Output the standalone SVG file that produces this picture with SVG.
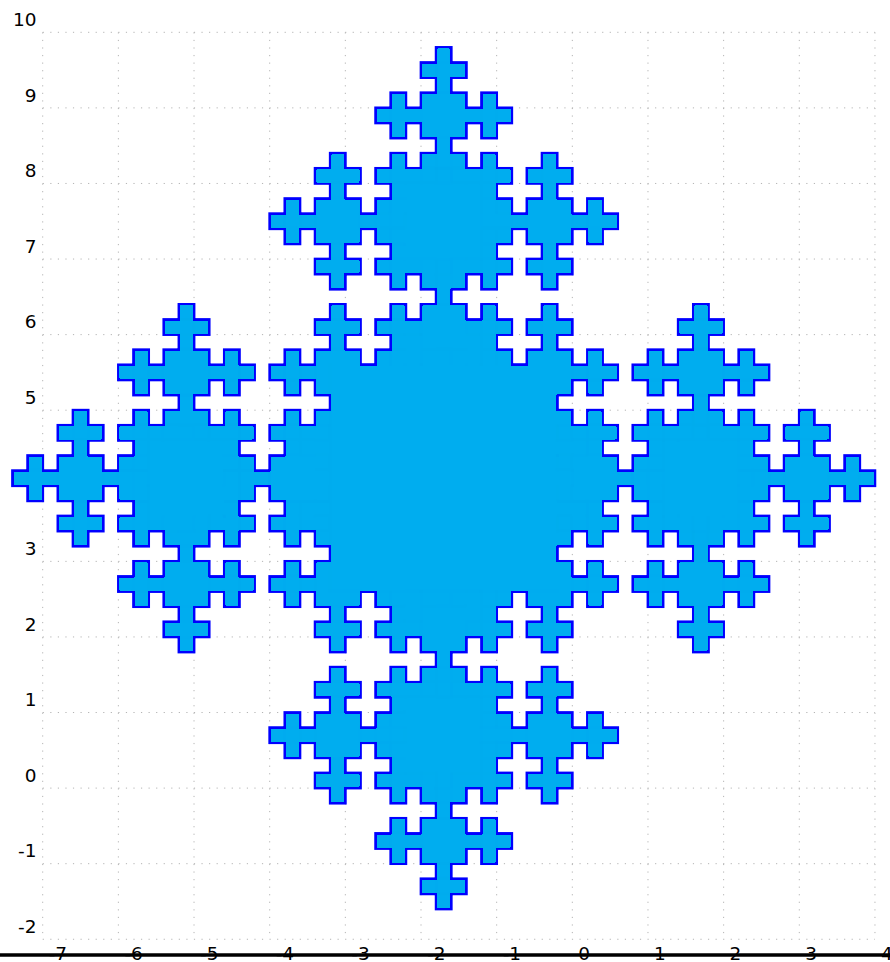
<svg xmlns="http://www.w3.org/2000/svg" width="890" height="962" viewBox="0 0 890 962">
<defs>
<style>
.grid line { stroke:#b4b4b4; stroke-width:1; stroke-dasharray:1.2 6.36; fill:none }
.lab { font-family:"DejaVu Sans","Liberation Sans",sans-serif; font-size:18.5px; fill:#000 }
.ylab { text-anchor:end }
</style>
<rect id="s0" x="-0.5" y="-0.5" width="1" height="1"/>
<g id="s1"><use href="#s0"/><use href="#s0" x="1"/><use href="#s0" x="-1"/><use href="#s0" y="1"/><use href="#s0" y="-1"/></g>
<g id="s2"><use href="#s1"/><use href="#s1" x="3"/><use href="#s1" x="-3"/><use href="#s1" y="3"/><use href="#s1" y="-3"/><rect x="-1.5" y="-1.5" width="3" height="3"/></g>
<g id="s3"><use href="#s2"/><use href="#s2" x="7"/><use href="#s2" x="-7"/><use href="#s2" y="7"/><use href="#s2" y="-7"/><use href="#s1" x="3" y="3"/><use href="#s1" x="3" y="-3"/><use href="#s1" x="-3" y="3"/><use href="#s1" x="-3" y="-3"/><rect x="-2.5" y="-2.5" width="5" height="5"/></g>
<g id="s4"><use href="#s3"/><use href="#s3" x="17"/><use href="#s3" x="-17"/><use href="#s3" y="17"/><use href="#s3" y="-17"/><use href="#s2" x="7" y="7"/><use href="#s2" x="7" y="-7"/><use href="#s2" x="-7" y="7"/><use href="#s2" x="-7" y="-7"/><rect x="-7.5" y="-7.5" width="15" height="15"/><rect x="7.5" y="1.5" width="2" height="1"/><rect x="7.5" y="-2.5" width="2" height="1"/><rect x="-9.5" y="1.5" width="2" height="1"/><rect x="-9.5" y="-2.5" width="2" height="1"/><rect x="1.5" y="7.5" width="1" height="2"/><rect x="-2.5" y="7.5" width="1" height="2"/><rect x="1.5" y="-9.5" width="1" height="2"/><rect x="-2.5" y="-9.5" width="1" height="2"/></g>
<filter id="erode" x="0" y="0" width="890" height="962" filterUnits="userSpaceOnUse" color-interpolation-filters="sRGB">
<feComponentTransfer in="SourceGraphic" result="solid"><feFuncA type="discrete" tableValues="0 1"/></feComponentTransfer>
<feMorphology in="solid" operator="erode" radius="1.35"/>
</filter>
</defs>
<rect width="890" height="962" fill="#fff"/>
<g id="grid" class="grid">
<line x1="42.7" y1="32.3" x2="42.7" y2="939.3"/>
<line x1="118.36" y1="32.3" x2="118.36" y2="939.3"/>
<line x1="194.02" y1="32.3" x2="194.02" y2="939.3"/>
<line x1="269.68" y1="32.3" x2="269.68" y2="939.3"/>
<line x1="345.34" y1="32.3" x2="345.34" y2="939.3"/>
<line x1="421" y1="32.3" x2="421" y2="939.3"/>
<line x1="496.66" y1="32.3" x2="496.66" y2="939.3"/>
<line x1="572.32" y1="32.3" x2="572.32" y2="939.3"/>
<line x1="647.98" y1="32.3" x2="647.98" y2="939.3"/>
<line x1="723.64" y1="32.3" x2="723.64" y2="939.3"/>
<line x1="799.3" y1="32.3" x2="799.3" y2="939.3"/>
<line x1="874.96" y1="32.3" x2="874.96" y2="939.3"/>
<line x1="42.7" y1="32.3" x2="875" y2="32.3"/>
<line x1="42.7" y1="107.88" x2="875" y2="107.88"/>
<line x1="42.7" y1="183.46" x2="875" y2="183.46"/>
<line x1="42.7" y1="259.04" x2="875" y2="259.04"/>
<line x1="42.7" y1="334.62" x2="875" y2="334.62"/>
<line x1="42.7" y1="410.2" x2="875" y2="410.2"/>
<line x1="42.7" y1="485.78" x2="875" y2="485.78"/>
<line x1="42.7" y1="561.36" x2="875" y2="561.36"/>
<line x1="42.7" y1="636.94" x2="875" y2="636.94"/>
<line x1="42.7" y1="712.52" x2="875" y2="712.52"/>
<line x1="42.7" y1="788.1" x2="875" y2="788.1"/>
<line x1="42.7" y1="863.68" x2="875" y2="863.68"/>
<line x1="42.7" y1="939.26" x2="875" y2="939.26"/>
</g>
<g id="y-labels" class="lab ylab">
<text x="36.5" y="26">10</text>
<text x="36.5" y="101.6">9</text>
<text x="36.5" y="177.2">8</text>
<text x="36.5" y="252.7">7</text>
<text x="36.5" y="328.3">6</text>
<text x="36.5" y="403.9">5</text>
<text x="36.5" y="555.1">3</text>
<text x="36.5" y="630.6">2</text>
<text x="36.5" y="706.2">1</text>
<text x="36.5" y="781.8">0</text>
<text x="36.5" y="857.4">-1</text>
<text x="36.5" y="933">-2</text>
</g>
<g id="x-labels" class="lab">
<text x="48.7" y="960">-7</text>
<text x="124.4" y="960">-6</text>
<text x="200" y="960">-5</text>
<text x="275.7" y="960">-4</text>
<text x="351.3" y="960">-3</text>
<text x="427" y="960">-2</text>
<text x="502.7" y="960">-1</text>
<text x="578.3" y="960">0</text>
<text x="654" y="960">1</text>
<text x="729.6" y="960">2</text>
<text x="805.3" y="960">3</text>
<text x="881" y="960">4</text>
</g>
<g id="fractal">
<use href="#s4" transform="translate(443.7 478.2) scale(15.13 15.116)" fill="#0000ff" stroke="#0000ff" stroke-width="0.18"/>
<g filter="url(#erode)">
<use href="#s4" transform="translate(443.7 478.2) scale(15.13 15.116)" fill="#00adef"/>
</g>
</g>
<line id="x-axis" x1="0" y1="955" x2="890" y2="955" stroke="#000" stroke-width="3.4"/>
</svg>
